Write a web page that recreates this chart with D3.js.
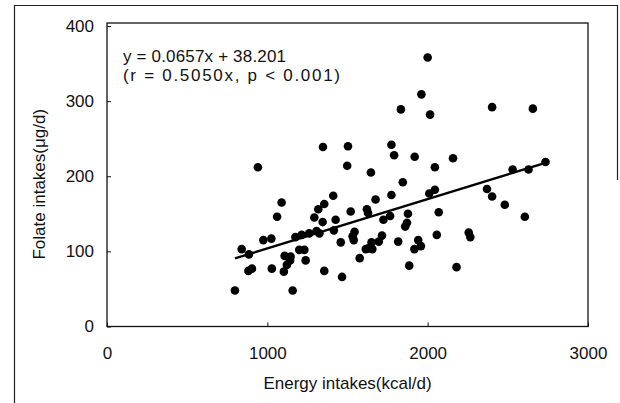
<!DOCTYPE html>
<html>
<head>
<meta charset="utf-8">
<script src="https://cdn.jsdelivr.net/npm/d3@7"></script>
<style>
  body { margin: 0; background: #fff; }
  text { font-family: "Liberation Sans", Arial, sans-serif; fill: #111; }
</style>
</head>
<body>
<div id="chart"></div>
<script>
// Energy intake (kcal/d) and folate intake (ug/d)
const energy = [
  2000, 1961, 1833, 2015, 2402, 2656, 941, 1347, 1503, 1498,
  1646, 1774, 1791, 1919, 2158, 2045, 1845, 1774, 1675, 1411,
  1355, 1318, 1089, 1061, 1293, 1345, 1426, 1415, 1520, 1621,
  1628, 1724, 1766, 1877, 1871, 1860, 2010, 2045, 2069, 2057,
  2370, 2402, 2481, 2530, 2629, 2735, 2606, 2256, 2266, 2180,
  1885, 1917, 1941, 1958, 1816, 1715, 1695, 1650, 1630, 1614,
  1655, 1576, 1544, 1539, 1458, 1466, 1355, 1239, 1231, 1199,
  1158, 1175, 1214, 1261, 1307, 1325, 1108, 1145, 1103, 1122,
  1142, 1025, 975, 1028, 882, 904, 840, 885, 798, 1532
];
const folate = [
  358, 309, 289, 282, 292, 290, 212, 239, 240, 214,
  205, 242, 228, 226, 224, 212, 192, 175, 169, 174,
  163, 156, 165, 146, 145, 139, 142, 128, 153, 156,
  151, 142, 147, 150, 138, 133, 177, 182, 152, 122,
  183, 173, 162, 209, 209, 219, 146, 125, 119, 79,
  81, 103, 115, 107, 113, 121, 113, 112, 104, 103,
  103, 91, 126, 115, 112, 66, 74, 88, 102, 102,
  48, 119, 122, 124, 127, 124, 94, 93, 73, 82,
  88, 117, 115, 77, 74, 77, 103, 96, 48, 120
];
const xTicks = [0, 1000, 2000, 3000];
const yTicks = [0, 100, 200, 300, 400];
const slope = 0.0657, intercept = 38.201;
const eqLines = ["y = 0.0657x + 38.201", "(r = 0.5050x, p < 0.001)"];
const eqWidths = [163, 217];

const width = 620, height = 403;
const margin = {top: 26, right: 32, bottom: 76.5, left: 107};

const svg = d3.select("#chart")
  .append("svg")
  .attr("width", width)
  .attr("height", height);

// outer figure frame
svg.append("path")
  .attr("d", "M14.5,403 V5.5 H617.5 V180")
  .attr("fill", "none")
  .attr("stroke", "#222")
  .attr("stroke-width", 1.2);

const x = d3.scaleLinear().domain([0, 3000]).range([margin.left, width - margin.right]);
const y = d3.scaleLinear().domain([0, 400]).range([height - margin.bottom, margin.top]);

// plot frame
svg.append("rect")
  .attr("x", x(0))
  .attr("y", y(400) - 3)
  .attr("width", x(3000) - x(0))
  .attr("height", y(0) - y(400) + 3)
  .attr("fill", "none")
  .attr("stroke", "#111")
  .attr("stroke-width", 1.3);

// axes, ticks pointing inward
const xAxis = svg.append("g")
  .attr("transform", `translate(0,${y(0)})`)
  .call(d3.axisBottom(x).tickValues(xTicks).tickSize(-4).tickPadding(20).tickFormat(d3.format("d")));
const yAxis = svg.append("g")
  .attr("transform", `translate(${x(0)},0)`)
  .call(d3.axisLeft(y).tickValues(yTicks).tickSize(-4).tickPadding(13).tickFormat(d3.format("d")));

[xAxis, yAxis].forEach(g => {
  g.select(".domain").remove();
  g.selectAll("line").attr("stroke", "#111");
  g.selectAll("text").style("font-size", "17px").attr("fill", "#111");
});

// points
svg.append("g")
  .selectAll("circle")
  .data(energy.map((e, i) => ({x: e, y: folate[i]})))
  .join("circle")
  .attr("cx", d => x(d.x))
  .attr("cy", d => y(d.y))
  .attr("r", 4.3)
  .attr("fill", "#000");

// regression line over the data range
const [xmin, xmax] = d3.extent(energy);
svg.append("path")
  .datum([xmin, xmax].map(v => ({x: v, y: slope * v + intercept})))
  .attr("d", d3.line().x(d => x(d.x)).y(d => y(d.y)))
  .attr("stroke", "#000")
  .attr("stroke-width", 2.4)
  .attr("fill", "none");

// regression text
svg.append("g")
  .selectAll("text")
  .data(eqLines)
  .join("text")
  .attr("x", x(0) + 16)
  .attr("y", (d, i) => y(400) + 36 + i * 19)
  .attr("textLength", (d, i) => eqWidths[i])
  .attr("lengthAdjust", "spacing")
  .style("font-size", "17px")
  .text(d => d);

// axis labels
svg.append("text")
  .attr("x", (x(0) + x(3000)) / 2)
  .attr("y", y(0) + 62)
  .attr("text-anchor", "middle")
  .style("font-size", "17px")
  .text("Energy intakes(kcal/d)");

svg.append("text")
  .attr("transform", `translate(45,${(y(0) + y(400)) / 2 + 8}) rotate(-90)`)
  .attr("text-anchor", "middle")
  .style("font-size", "17px")
  .text("Folate intakes(μg/d)");
</script>
</body>
</html>
